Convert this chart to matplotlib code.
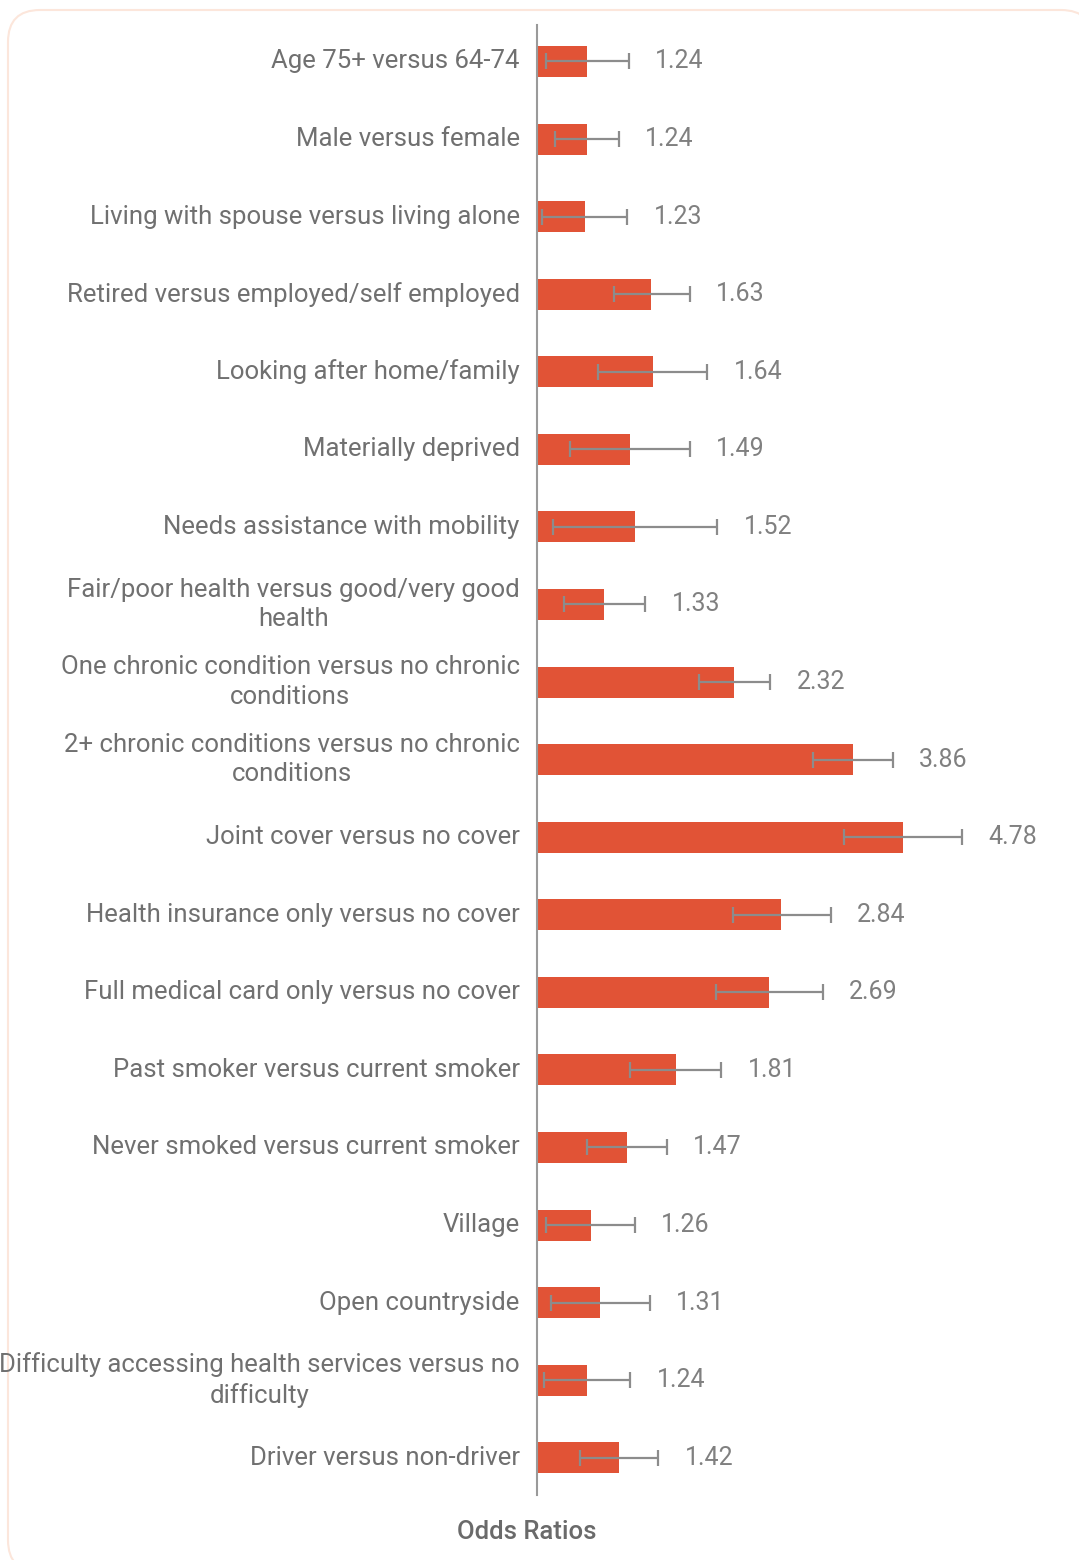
import numpy as np
import matplotlib
matplotlib.use("Agg")
import matplotlib.pyplot as plt
from matplotlib.patches import FancyBboxPatch

# Odds ratios with 95% confidence limits
labels = [
    "Age 75+ versus 64-74",
    "Male versus female",
    "Living with spouse versus living alone",
    "Retired versus employed/self employed",
    "Looking after home/family",
    "Materially deprived",
    "Needs assistance with mobility",
    "Fair/poor health versus good/very good\nhealth",
    "One chronic condition versus no chronic\nconditions",
    "2+ chronic conditions versus no chronic\nconditions",
    "Joint cover versus no cover",
    "Health insurance only versus no cover",
    "Full medical card only versus no cover",
    "Past smoker versus current smoker",
    "Never smoked versus current smoker",
    "Village",
    "Open countryside",
    "Difficulty accessing health services versus no\ndifficulty",
    "Driver versus non-driver",
]
odds = [1.24, 1.24, 1.23, 1.63, 1.64, 1.49, 1.52, 1.33, 2.32, 3.86,
        4.78, 2.84, 2.69, 1.81, 1.47, 1.26, 1.31, 1.24, 1.42]
ci_low = [1.04, 1.08, 1.02, 1.39, 1.30, 1.15, 1.07, 1.12, 2.00, 3.25,
          3.71, 2.31, 2.15, 1.49, 1.24, 1.04, 1.06, 1.03, 1.20]
ci_high = [1.48, 1.42, 1.47, 1.92, 2.07, 1.92, 2.16, 1.59, 2.71, 4.57,
           6.16, 3.51, 3.39, 2.20, 1.74, 1.52, 1.62, 1.49, 1.68]

bar_color = "#e15336"
text_color = "#707070"
err_color = "#8c8c8c"

W, H = 1079, 1560
fig = plt.figure(figsize=(W / 100, H / 100), dpi=100)
fig.patch.set_facecolor("white")

# rounded card behind the chart
card = FancyBboxPatch((0.08, -0.12), 10.85, 15.62,
                      boxstyle="round,pad=0,rounding_size=0.32",
                      transform=fig.dpi_scale_trans,
                      facecolor="white", edgecolor="#fce6db", linewidth=1.5,
                      zorder=-10)
fig.patches.append(card)

ax = fig.add_axes([537 / W, 1 - 1495 / H, 523 / W, 1470 / H])
ax.set_facecolor("none")

y = np.arange(len(labels))
odds = np.array(odds)
lo = np.array(ci_low)
hi = np.array(ci_high)

ax.barh(y, odds - 1, left=1, height=0.4, color=bar_color, zorder=2)
ax.errorbar(odds, y, xerr=[odds - lo, hi - odds], fmt="none",
            ecolor=err_color, elinewidth=1.6, capsize=6, capthick=1.6, zorder=3)

ax.set_xscale("log")
ax.set_xlim(1, 9.35)
ax.set_ylim(len(labels) - 0.52, -0.47)

for s in ["top", "right", "bottom"]:
    ax.spines[s].set_visible(False)
ax.spines["left"].set_color("#9a9a9a")
ax.spines["left"].set_linewidth(1.5)
ax.set_xticks([])
ax.set_xticks([], minor=True)
ax.set_yticks([])

for i, lab in enumerate(labels):
    t = ax.text(-0.033, i, lab, transform=ax.get_yaxis_transform(),
                ha="right", va="center", multialignment="center",
                fontsize=18.5, family="Roboto", color=text_color,
                linespacing=1.3, clip_on=True)
    # long labels get cut at the card edge, not at the axes
    t.set_clip_box(None)
    t.set_clip_path(card)
    ax.annotate(f"{odds[i]:.2f}", xy=(hi[i], i), xytext=(19, 0),
                textcoords="offset points", ha="left", va="center",
                fontsize=18, family="Roboto", color="#808080")

fig.text(527 / W, 1 - 1532 / H, "Odds Ratios", ha="center", va="center",
         fontsize=18.5, family="Roboto", fontweight="medium", color="#6a6a6a")

fig.savefig("out.png", dpi=100)
